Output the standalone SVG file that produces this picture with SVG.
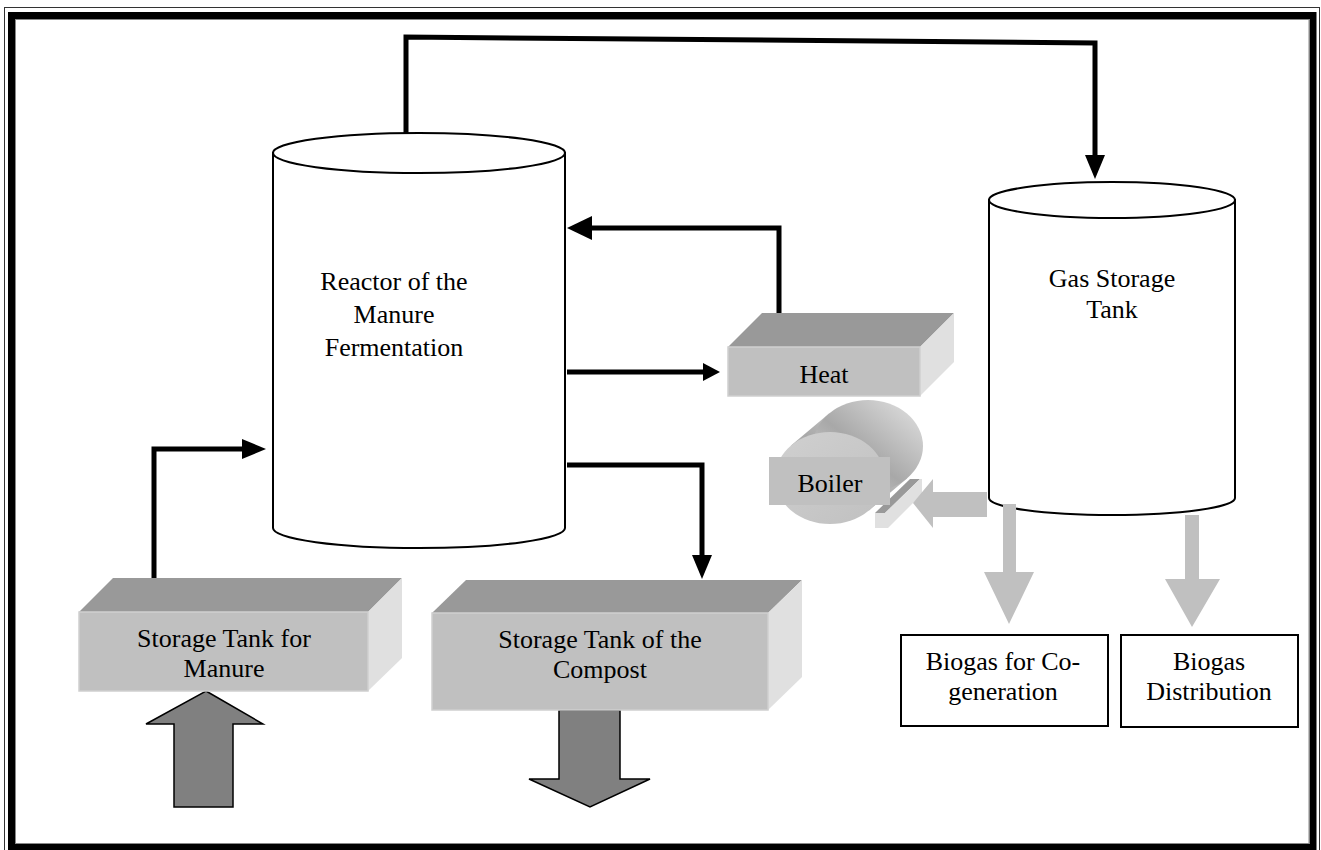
<svg xmlns="http://www.w3.org/2000/svg" width="1321" height="850" viewBox="0 0 1321 850">
  <style>
    text { font-family: "Liberation Serif", "Times New Roman", Times, "DejaVu Serif", serif; }
    .lbl { font-size: 26px; fill: #000; text-anchor: middle; }
    .cyl { fill: #fff; stroke: #000; stroke-width: 2; }
    .top3d { fill: #999999; }
    .front3d { fill: #c0c0c0; stroke: #cfcfcf; stroke-width: 1.5; }
    .side3d { fill: #e0e0e0; }
    .conn { fill: none; stroke: #000; stroke-width: 5; stroke-linejoin: miter; }
    .bigarrow { fill: #808080; stroke: #000; stroke-width: 1.5; stroke-linejoin: miter; }
    .gasarrow { fill: #c0c0c0; stroke: none; }
    .box { fill: #fff; stroke: #000; stroke-width: 2; }
  </style>
  <defs>
    <marker id="headL" markerUnits="userSpaceOnUse" viewBox="0 -12 25 24" markerWidth="25" markerHeight="24" refX="0" refY="0" orient="auto">
      <path d="M0,-12 L25,0 L0,12 z" fill="#000"/>
    </marker>
    <marker id="headM" markerUnits="userSpaceOnUse" viewBox="0 -10 24 20" markerWidth="24" markerHeight="20" refX="0" refY="0" orient="auto">
      <path d="M0,-10 L24,0 L0,10 z" fill="#000"/>
    </marker>
    <marker id="headS" markerUnits="userSpaceOnUse" viewBox="0 -9 17 18" markerWidth="17" markerHeight="18" refX="0" refY="0" orient="auto">
      <path d="M0,-9 L17,0 L0,9 z" fill="#000"/>
    </marker>
    <linearGradient id="boilerBody" x1="0" y1="1" x2="1" y2="0">
      <stop offset="0" stop-color="#d8d8d8"/>
      <stop offset="0.45" stop-color="#a8a8a8"/>
      <stop offset="1" stop-color="#e4e4e4"/>
    </linearGradient>
    <linearGradient id="boilerFace" x1="0" y1="0" x2="1" y2="1">
      <stop offset="0" stop-color="#d0d0d0"/>
      <stop offset="1" stop-color="#c0c0c0"/>
    </linearGradient>
  </defs>

  <!-- page frame -->
  <g id="frame" fill="none">
    <rect x="4.5" y="7.5" width="1315" height="860" stroke="#333" stroke-width="1"/>
    <rect x="11.5" y="15.5" width="1301.5" height="832" stroke="#000" stroke-width="7"/>
    <rect x="15.5" y="19.5" width="1293.5" height="824" stroke="#888" stroke-width="1"/>
  </g>

  <!-- connectors -->
  <g id="connectors">
    <path class="conn" d="M406,142 L406,37 L1095,43 L1095,155" marker-end="url(#headM)"/>
    <path class="conn" d="M779,313 L779,228 L592,228" marker-end="url(#headL)"/>
    <path class="conn" d="M567,372 L703,372" marker-end="url(#headS)"/>
    <path class="conn" d="M154,578 L154,449 L242,449" marker-end="url(#headM)"/>
    <path class="conn" d="M567,465 L702,465 L702,555" marker-end="url(#headM)"/>
  </g>

  <!-- digester -->
  <g id="reactor">
    <path class="cyl" d="M273,153 L273,528 A146,20 0 0 0 565,528 L565,153 z"/>
    <ellipse class="cyl" cx="419" cy="153" rx="146" ry="20"/>
    <text class="lbl" x="394" y="290">Reactor of the</text>
    <text class="lbl" x="394" y="323">Manure</text>
    <text class="lbl" x="394" y="356">Fermentation</text>
  </g>

  <!-- gas holder -->
  <g id="gas-storage">
    <path class="cyl" d="M989,200 L989,498 A123,17 0 0 0 1235,498 L1235,200 z"/>
    <ellipse class="cyl" cx="1112" cy="200" rx="123" ry="18"/>
    <text class="lbl" x="1112" y="287">Gas Storage</text>
    <text class="lbl" x="1112" y="318">Tank</text>
  </g>

  <!-- heat exchanger -->
  <g id="heat">
    <polygon class="top3d" points="728,347 762,313 954,313 920,347"/>
    <polygon class="side3d" points="920,347 954,313 954,362 920,396"/>
    <rect class="front3d" x="728" y="347" width="192" height="49"/>
    <text class="lbl" x="824" y="383">Heat</text>
  </g>

  <!-- boiler -->
  <g id="boiler">
    <polygon fill="url(#boilerBody)" points="791,445.6 829,413.6 907,478.4 869,510.4"/>
    <ellipse cx="868" cy="446" rx="55" ry="46" fill="url(#boilerBody)"/>
    <ellipse cx="830" cy="478" rx="55" ry="46" fill="url(#boilerFace)"/>
    <polygon fill="#999999" points="875,513 910,479 920,479 885,513"/>
    <polygon fill="#e0e0e0" points="875,513 885,513 920,479 922,479 922,494 888,528 875,528"/>
    <rect x="769" y="457" width="121" height="48" fill="#c0c0c0"/>
    <text class="lbl" x="830" y="492">Boiler</text>
    <polygon class="gasarrow" points="913,503 933,479 933,492 987,492 987,517 933,517 933,528"/>
  </g>

  <!-- manure storage -->
  <g id="manure-storage">
    <polygon class="bigarrow" points="206,691 263,724 233,724 233,807 174,807 174,724 146,724"/>
    <polygon class="top3d" points="79,612 113,578 402,578 368,612"/>
    <polygon class="side3d" points="368,612 402,578 402,658 368,691"/>
    <rect class="front3d" x="79" y="612" width="289" height="79"/>
    <text class="lbl" x="224" y="647">Storage Tank for</text>
    <text class="lbl" x="224" y="677">Manure</text>
  </g>

  <!-- compost storage -->
  <g id="compost-storage">
    <polygon class="bigarrow" points="559,710 620,710 620,779 650,779 590,807 529,779 559,779"/>
    <polygon class="top3d" points="432,613 466,580 802,580 768,613"/>
    <polygon class="side3d" points="768,613 802,580 802,677 768,710"/>
    <rect class="front3d" x="432" y="613" width="336" height="97"/>
    <text class="lbl" x="600" y="648">Storage Tank of the</text>
    <text class="lbl" x="600" y="678">Compost</text>
  </g>

  <!-- biogas outlets -->
  <g id="cogeneration">
    <polygon class="gasarrow" points="1003,504 1016,504 1016,572 1034,572 1009,624 984,572 1003,572"/>
    <rect class="box" x="901" y="635" width="207" height="91"/>
    <text class="lbl" x="1003" y="670">Biogas for Co-</text>
    <text class="lbl" x="1003" y="700">generation</text>
  </g>
  <g id="distribution">
    <polygon class="gasarrow" points="1185,515 1199,515 1199,579 1220,579 1192,627 1165,579 1185,579"/>
    <rect class="box" x="1121" y="635" width="177" height="92"/>
    <text class="lbl" x="1209" y="670">Biogas</text>
    <text class="lbl" x="1209" y="700">Distribution</text>
  </g>
</svg>
